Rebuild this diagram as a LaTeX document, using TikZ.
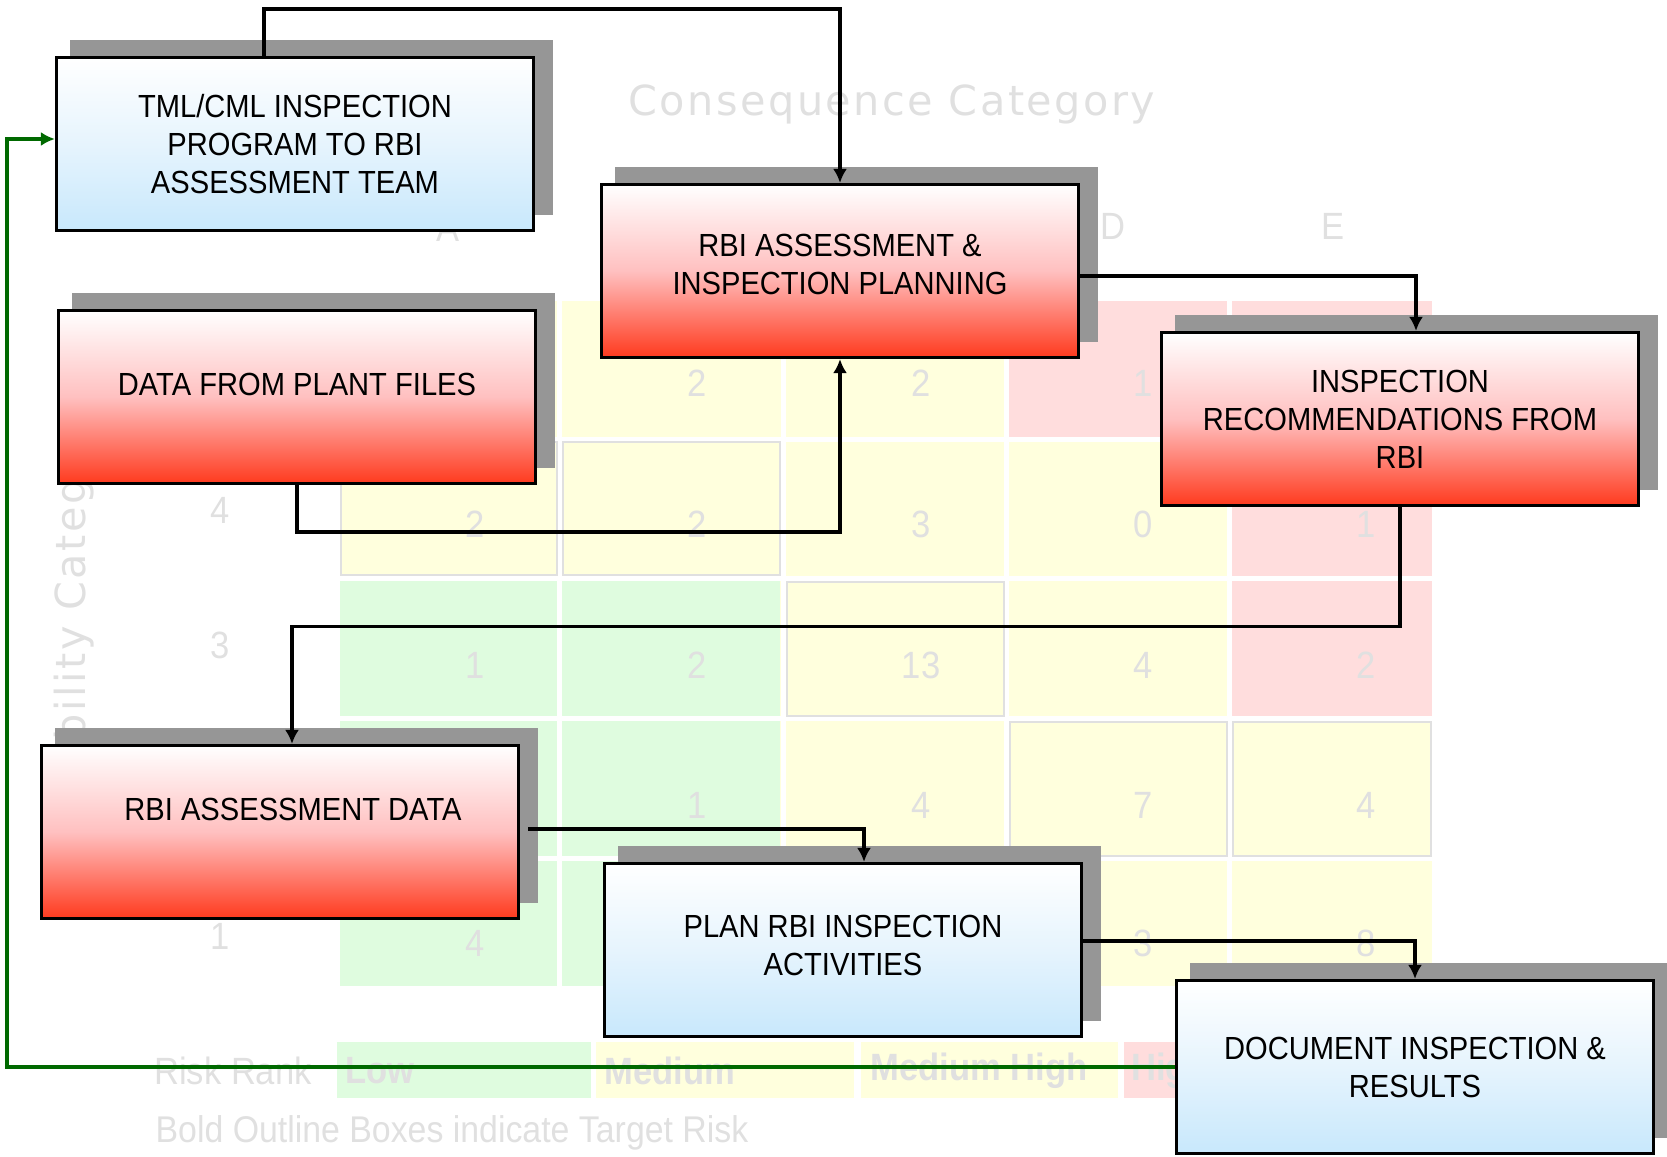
\documentclass[tikz,border=0pt]{standalone}
\usepackage{fontspec}
\setmainfont[FakeStretch=0.91]{Liberation Sans}
\newfontfamily\widefont[LetterSpace=6]{DejaVu Sans}
\usetikzlibrary{calc, shadows, arrows.meta}

\definecolor{shadowgray}{RGB}{150,150,150}
\definecolor{redbot}{RGB}{255,58,30}
\definecolor{redmid}{RGB}{255,192,192}
\definecolor{bluebot}{RGB}{200,232,252}
\definecolor{bluemid}{RGB}{230,244,253}
\definecolor{lowgreen}{RGB}{223,252,223}
\definecolor{medyellow}{RGB}{255,255,221}
\definecolor{highred}{RGB}{255,221,221}
\definecolor{faint}{RGB}{224,224,224}
\definecolor{loopgreen}{RGB}{0,105,0}

% box text raised above the middle of its box
\newcommand{\liftlines}[2]{\raisebox{#1}[0pt][0pt]{\begin{tabular}[b]{@{}c@{}}#2\end{tabular}}}

\tikzset{
    stepbox/.style={draw, line width=1.6pt, rectangle, minimum width=238.5pt, minimum height=86.5pt, align=center,
        font=\fontsize{16}{19}\selectfont,
        drop shadow={shadow xshift=8.2pt, shadow yshift=8.2pt, shadow scale=1.012, fill=shadowgray, opacity=1}},
    redbox/.style={stepbox, top color=white, bottom color=redbot, middle color=redmid},
    bluebox/.style={stepbox, top color=white, bottom color=bluebot, middle color=bluemid},
    flow/.style={line width=1.6pt, -{Latex[length=7pt, width=7pt]}},
    backflow/.style={flow, loopgreen},
    faintnum/.style={text=faint, font=\fontsize{19}{21}\selectfont, inner sep=0pt},
    faintbig/.style={text=faint, font=\widefont\fontsize{20.7}{22}\selectfont, inner sep=0pt},
    rankcell/.style={text=faint, font=\bfseries\fontsize{19}{21}\selectfont, anchor=west, inner sep=0pt},
    target/.style={draw=faint, line width=1pt}
}

\begin{document}
\begin{tikzpicture}[x=0.5pt, y=-0.5pt]
    \useasboundingbox (0,0) rectangle (1667,1157);

    % faded risk matrix behind the flow
    \fill[medyellow] (340,301) rectangle (1432,986);
    \fill[lowgreen] (340,581) rectangle (780,986);
    \fill[highred] (1009,301) rectangle (1432,437);
    \fill[highred] (1232,441) rectangle (1432,716);
    \draw[white, line width=2.5pt] (559.5,301) -- (559.5,986) (783,301) -- (783,986)
        (1006.5,301) -- (1006.5,986) (1229.5,301) -- (1229.5,986)
        (340,439) -- (1432,439) (340,578) -- (1432,578) (340,718.5) -- (1432,718.5) (340,858.5) -- (1432,858.5);
    \draw[target] (341,442) rectangle (557,575) (563,442) rectangle (780,575) (787,582) rectangle (1004,716)
        (1010,722) rectangle (1227,856) (1233,722) rectangle (1431,856);

    \node[faintbig] (conseq) at (892,104) {Consequence Category};
    \node[faintbig, rotate=90] (probab) at (74,637) {Probability Category};
    \node[faintnum] (colA) at (448,228) {A};
    \node[faintnum] (colD) at (1113,226) {D};
    \node[faintnum] (colE) at (1333,226) {E};
    \node[faintnum] (row4) at (220,510) {4};
    \node[faintnum] (row3) at (220,645) {3};
    \node[faintnum] (row1) at (220,936) {1};

    \node[faintnum] at (697,383) {2};  \node[faintnum] at (921,383) {2};  \node[faintnum] at (1143,383) {1};
    \node[faintnum] at (475,524) {2};  \node[faintnum] at (697,524) {2};  \node[faintnum] at (921,524) {3};
    \node[faintnum] at (1143,524) {0}; \node[faintnum] at (1366,524) {1};
    \node[faintnum] at (475,665) {1};  \node[faintnum] at (697,665) {2};  \node[faintnum] at (921,665) {13};
    \node[faintnum] at (1143,665) {4}; \node[faintnum] at (1366,665) {2};
    \node[faintnum] at (697,805) {1};  \node[faintnum] at (921,805) {4};  \node[faintnum] at (1143,805) {7};
    \node[faintnum] at (1366,805) {4};
    \node[faintnum] at (475,943) {4};  \node[faintnum] at (1143,943) {3}; \node[faintnum] at (1366,943) {8};

    % legend
    \fill[lowgreen] (337,1042) rectangle (591,1098);
    \fill[medyellow] (596,1042) rectangle (854,1098);
    \fill[medyellow] (861,1042) rectangle (1118,1098);
    \fill[highred] (1124,1042) rectangle (1380,1098);
    \node[faintnum] (rank) at (233,1071) {Risk Rank};
    \node[rankcell] (low) at (345,1071) {Low};
    \node[rankcell] (med) at (604,1071) {Medium};
    \node[rankcell] (medhigh) at (870,1071) {Medium High};
    \node[rankcell] (high) at (1131,1071) {High};
    \node[faintnum, font=\fontsize{18.6}{21}\selectfont] (note) at (452,1133) {Bold Outline Boxes indicate Target Risk};

    % flow boxes
    \node[bluebox] (tml) at (295,144) {TML/CML INSPECTION\\PROGRAM TO RBI\\ASSESSMENT TEAM};
    \node[redbox] (plan) at (840,271) {\liftlines{-11.5pt}{RBI ASSESSMENT \&\\INSPECTION PLANNING}};
    \node[redbox] (files) at (297,397) {\raisebox{1pt}[0pt][0pt]{DATA FROM PLANT FILES}};
    \node[redbox] (recom) at (1400,419) {INSPECTION\\RECOMMENDATIONS FROM\\RBI};
    \node[redbox] (rbidata) at (280,832) {\raisebox{6pt}[0pt][0pt]{\hspace*{13pt}RBI ASSESSMENT DATA}};
    \node[bluebox] (planact) at (843,950) {\liftlines{-12.9pt}{PLAN RBI INSPECTION\\ACTIVITIES}};
    \node[bluebox] (doc) at (1415,1067) {DOCUMENT INSPECTION \&\\RESULTS};

    \coordinate (overtop) at (840,9);
    \coordinate (underfiles) at (840,532);
    \coordinate (leftrail) at (7,139);

    \draw[flow] ([xshift=-15.5pt]tml.north) |- (overtop) -- (plan.north);
    \draw[flow] (files.south) |- (underfiles) -- (plan.south);
    \draw[flow] ([yshift=-2.5pt]plan.east) -| ([xshift=8pt]recom.north);
    \draw[flow] (recom.south) -- ++(0,119) -| ([xshift=6pt]rbidata.north);
    \draw[flow] ([shift={(4pt,1.5pt)}]rbidata.east) -| ([xshift=10.5pt]planact.north);
    \draw[flow] ([yshift=4.5pt]planact.east) -| (doc.north);
    \draw[backflow] (doc.west) -| (leftrail) -- ([yshift=2.5pt]tml.west);
\end{tikzpicture}
\end{document}
